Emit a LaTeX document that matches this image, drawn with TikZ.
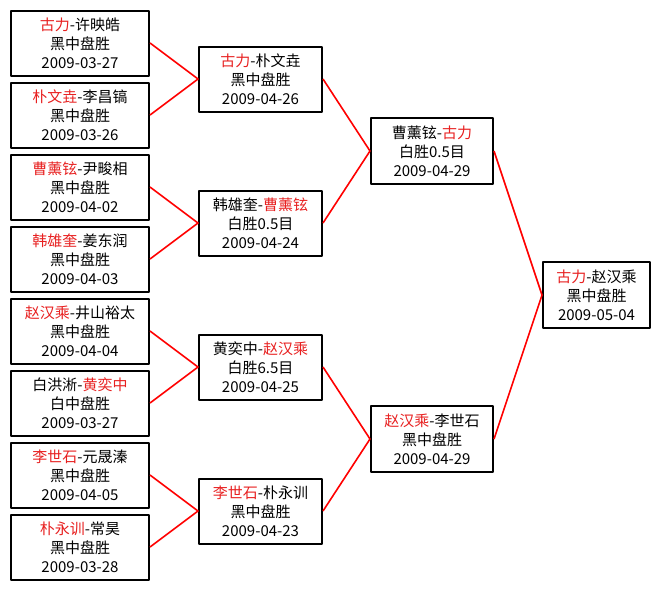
\documentclass[tikz,border=0pt]{standalone}
\usepackage{fontspec}
\setmainfont{Noto Sans CJK SC}
\definecolor{rojogano}{RGB}{232,32,32}
\newcommand{\ganador}[1]{\textcolor{rojogano}{#1}}
\begin{document}
\begin{tikzpicture}[x=1pt, y=-1pt, line join=round,
  partida/.style={draw, line width=2pt, fill=white, align=center, inner sep=0pt,
    minimum height=65pt, font=\fontsize{15}{19}\selectfont},
  enlace/.style={draw=red, line width=1.6pt}]
  \useasboundingbox (0,0) rectangle (660,589);
  % primera ronda, ocho partidas a la izquierda
  \node[partida, minimum width=138pt] (a1) at (80,43)  {\ganador{古力}-许映皓\\黑中盘胜\\2009-03-27};
  \node[partida, minimum width=138pt] (a2) at (80,115) {\ganador{朴文垚}-李昌镐\\黑中盘胜\\2009-03-26};
  \node[partida, minimum width=138pt] (a3) at (80,187) {\ganador{曹薰铉}-尹畯相\\黑中盘胜\\2009-04-02};
  \node[partida, minimum width=138pt] (a4) at (80,259) {\ganador{韩雄奎}-姜东润\\黑中盘胜\\2009-04-03};
  \node[partida, minimum width=138pt] (a5) at (80,331) {\ganador{赵汉乘}-井山裕太\\黑中盘胜\\2009-04-04};
  \node[partida, minimum width=138pt] (a6) at (80,403) {白洪淅-\ganador{黄奕中}\\白中盘胜\\2009-03-27};
  \node[partida, minimum width=138pt] (a7) at (80,475) {\ganador{李世石}-元晟溱\\黑中盘胜\\2009-04-05};
  \node[partida, minimum width=138pt] (a8) at (80,547) {\ganador{朴永训}-常昊\\黑中盘胜\\2009-03-28};
  % cuartos
  \node[partida, minimum width=123pt] (b1) at (260.5,79)  {\ganador{古力}-朴文垚\\黑中盘胜\\2009-04-26};
  \node[partida, minimum width=123pt] (b2) at (260.5,223) {韩雄奎-\ganador{曹薰铉}\\白胜0.5目\\2009-04-24};
  \node[partida, minimum width=123pt] (b3) at (260.5,367) {黄奕中-\ganador{赵汉乘}\\白胜6.5目\\2009-04-25};
  \node[partida, minimum width=123pt] (b4) at (260.5,511) {\ganador{李世石}-朴永训\\黑中盘胜\\2009-04-23};
  % semifinales y final
  \node[partida, minimum width=122pt, minimum height=66pt] (c1) at (432,151) {曹薰铉-\ganador{古力}\\白胜0.5目\\2009-04-29};
  \node[partida, minimum width=122pt, minimum height=66pt] (c2) at (432,439) {\ganador{赵汉乘}-李世石\\黑中盘胜\\2009-04-29};
  \node[partida, minimum width=107pt, minimum height=66pt] (d1) at (596.5,295) {\ganador{古力}-赵汉乘\\黑中盘胜\\2009-05-04};
  % las lineas rojas
  \draw[enlace] (a1.east) -- (b1.west) -- (a2.east);
  \draw[enlace] (a3.east) -- (b2.west) -- (a4.east);
  \draw[enlace] (a5.east) -- (b3.west) -- (a6.east);
  \draw[enlace] (a7.east) -- (b4.west) -- (a8.east);
  \draw[enlace] (b1.east) -- (c1.west) -- (b2.east);
  \draw[enlace] (b3.east) -- (c2.west) -- (b4.east);
  \draw[enlace] (c1.east) -- (d1.west) -- (c2.east);
\end{tikzpicture}
\end{document}
